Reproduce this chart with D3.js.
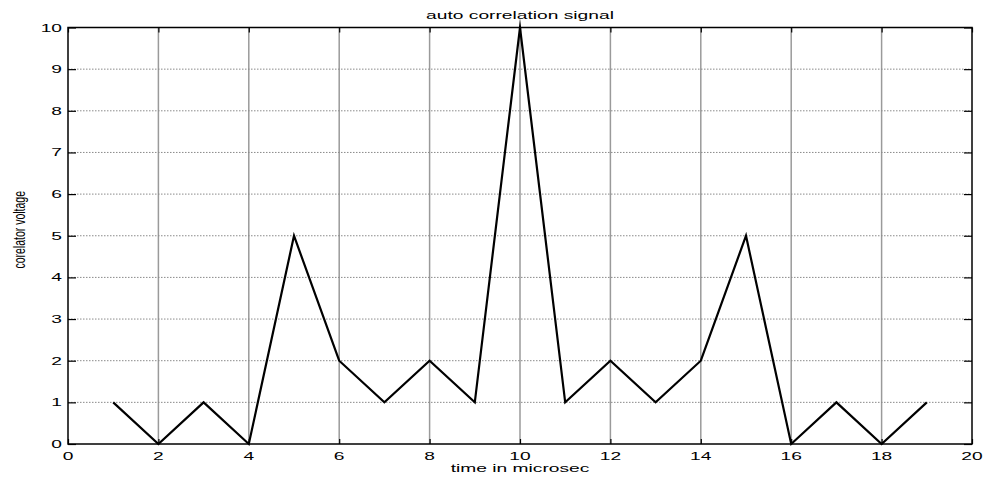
<!DOCTYPE html>
<html>
<head>
<meta charset="utf-8">
<script src="https://cdn.jsdelivr.net/npm/d3@7/dist/d3.min.js"></script>
<style>
  html, body { margin: 0; padding: 0; background: #fff; }
  svg { display: block; }
  text { font-family: "Liberation Sans", Arial, Helvetica, sans-serif; fill: #000; }
</style>
</head>
<body>
<svg id="chart" width="987" height="477"></svg>
<script>
// Auto-correlation samples (time in microseconds vs. correlator output)
const timeSamples = [1, 2, 3, 4, 5, 6, 7, 8, 9, 10, 11, 12, 13, 14, 15, 16, 17, 18, 19];
const voltage     = [1, 0, 1, 0, 5, 2, 1, 2, 1, 10, 1, 2, 1, 2, 5, 0, 1, 0, 1];
const xTicks = [0, 2, 4, 6, 8, 10, 12, 14, 16, 18, 20];
const yTicks = [0, 1, 2, 3, 4, 5, 6, 7, 8, 9, 10];
const titleText = "auto correlation signal";
const xLabelText = "time in microsec";
const yLabelText = "corelator voltage";

const W = 987, H = 477;
const margin = { left: 68, right: 15, top: 27.5, bottom: 33 };
const plotW = W - margin.left - margin.right;
const plotH = H - margin.top - margin.bottom;
const stretch = 1.7;   // horizontal text stretch
const fontSize = 11.3;

const svg = d3.select("#chart");
const g = svg.append("g").attr("transform", `translate(${margin.left},${margin.top})`);

const x = d3.scaleLinear().domain([0, 20]).range([0, plotW]);
const y = d3.scaleLinear().domain([0, 10]).range([plotH, 0]);

// grid
g.append("g").selectAll("line").data(xTicks.slice(1, -1)).join("line")
  .attr("x1", d => x(d)).attr("x2", d => x(d))
  .attr("y1", 0).attr("y2", plotH)
  .attr("stroke", "#9a9a9a").attr("stroke-width", 1.5);
g.append("g").selectAll("line").data(yTicks.slice(1, -1)).join("line")
  .attr("x1", 0).attr("x2", plotW)
  .attr("y1", d => y(d)).attr("y2", d => y(d))
  .attr("stroke", "#8a8a8a").attr("stroke-width", 1)
  .attr("stroke-dasharray", "1.5,1.5");

// axes with inward ticks on all four sides
const axisStyle = sel => {
  sel.select(".domain").remove();
  sel.selectAll(".tick line").attr("stroke", "#000").attr("stroke-width", 1.2);
};
g.append("g").attr("transform", `translate(0,${plotH})`)
  .call(d3.axisBottom(x).tickValues(xTicks).tickSizeInner(-5).tickSizeOuter(0).tickFormat(""))
  .call(axisStyle);
g.append("g")
  .call(d3.axisTop(x).tickValues(xTicks).tickSizeInner(-5).tickSizeOuter(0).tickFormat(""))
  .call(axisStyle);
g.append("g")
  .call(d3.axisLeft(y).tickValues(yTicks).tickSizeInner(-8).tickSizeOuter(0).tickFormat(""))
  .call(axisStyle);
g.append("g").attr("transform", `translate(${plotW},0)`)
  .call(d3.axisRight(y).tickValues(yTicks).tickSizeInner(-8).tickSizeOuter(0).tickFormat(""))
  .call(axisStyle);

// frame
g.append("rect").attr("x", 0).attr("y", 0).attr("width", plotW).attr("height", plotH)
  .attr("fill", "none").attr("stroke", "#000").attr("stroke-width", 1.5);

// tick labels
g.append("g").selectAll("text").data(xTicks).join("text")
  .attr("transform", d => `translate(${x(d)},${plotH + 16}) scale(${stretch},1)`)
  .attr("text-anchor", "middle")
  .attr("font-size", fontSize)
  .text(d => d);
g.append("g").selectAll("text").data(yTicks).join("text")
  .attr("transform", d => `translate(-6,${y(d) + 4}) scale(${stretch},1)`)
  .attr("text-anchor", "end")
  .attr("font-size", fontSize)
  .text(d => d);

// signal line
const line = d3.line().x((d, i) => x(timeSamples[i])).y(d => y(d));
g.append("path").datum(voltage)
  .attr("d", line)
  .attr("fill", "none").attr("stroke", "#000").attr("stroke-width", 2.2)
  .attr("stroke-linejoin", "miter").attr("stroke-miterlimit", 10);

// title and axis labels
svg.append("text")
  .attr("transform", `translate(${margin.left + plotW / 2},19) scale(${stretch},1)`)
  .attr("text-anchor", "middle").attr("font-size", fontSize)
  .text(titleText);
svg.append("text")
  .attr("transform", `translate(${margin.left + plotW / 2},472) scale(${stretch},1)`)
  .attr("text-anchor", "middle").attr("font-size", fontSize)
  .text(xLabelText);
svg.append("text")
  .attr("transform", `translate(25,${margin.top + plotH / 2 - 6}) scale(1.6,1) rotate(-90)`)
  .attr("text-anchor", "middle").attr("font-size", 10.5)
  .text(yLabelText);
</script>
</body>
</html>
